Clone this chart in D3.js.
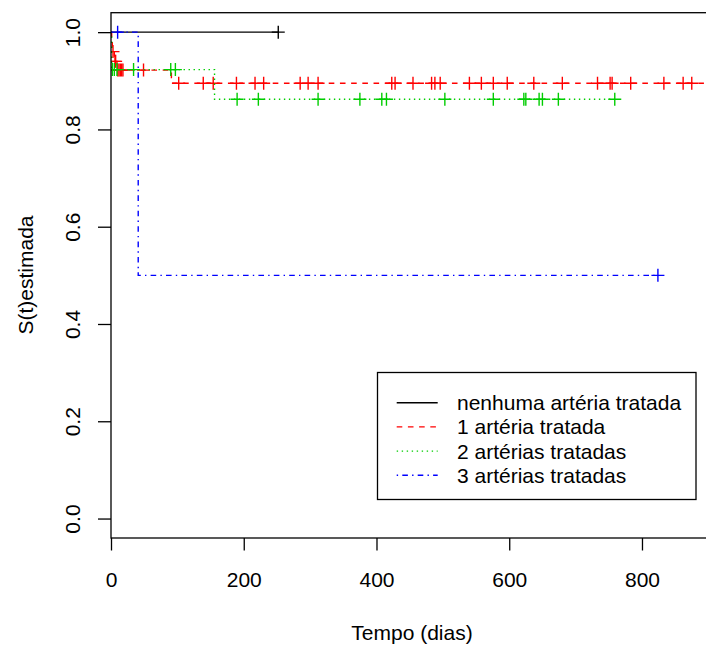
<!DOCTYPE html>
<html>
<head>
<meta charset="utf-8">
<script src="https://cdn.jsdelivr.net/npm/d3@7"></script>
<style>
  body { margin: 0; background: #fff; }
  svg { display: block; font-family: "Liberation Sans", Arial, sans-serif; }
</style>
</head>
<body>
<svg id="chart" width="706" height="645"></svg>
<script>
// group labels, colours and R line types
const groups = ["nenhuma artéria tratada", "1 artéria tratada", "2 artérias tratadas", "3 artérias tratadas"];
const colors = ["#000000", "#ff0000", "#00cd00", "#0000ff"];
const dashes = [null, "5.6 5.6", "1.4 3.6", "1.4 4.2 5.6 4.2"];

// Kaplan-Meier steps (time in days, survival after the step)
const stepTimes = [[], [1, 2, 5, 9, 91], [1, 156], [41]];
const stepSurv = [[], [0.98, 0.96, 0.94, 0.922, 0.895], [0.923, 0.862], [0.5]];

// censored times (the "+" marks)
const censorTimes = [
  [252],
  [3, 6, 7, 10, 12, 14, 16, 18, 49, 102, 139, 154, 189, 217, 230, 285, 297, 312,
   423, 428, 455, 483, 488, 496, 540, 558, 576, 597, 637, 680, 733, 752, 755, 783,
   833, 862, 875],
  [2, 5, 9, 34, 90, 97, 190, 222, 312, 375, 408, 415, 503, 576, 622, 625, 645, 650, 674, 759],
  [10, 824]
];
// last follow-up time of each group (red runs past the window edge)
const endTimes = [252, 905, 759, 824];

const xTicks = [0, 200, 400, 600, 800];
const yTicks = [0, 0.2, 0.4, 0.6, 0.8, 1.0];

const svg = d3.select("#chart");
const FONT = 21;

// plot region (R box), right side runs past the window edge
const x = d3.scaleLinear().domain([0, 907]).range([111, 713]);
const y = d3.scaleLinear().domain([-0.04, 1.04]).range([538, 12.7]);

const survAt = function (g, t) {
  let s = 1;
  stepTimes[g].forEach((st, i) => { if (st <= t) s = stepSurv[g][i]; });
  return s;
};

svg.append("clipPath").attr("id", "plotclip")
  .append("rect").attr("x", 111).attr("y", 12.7).attr("width", 602).attr("height", 525.3);

const plot = svg.append("g").attr("clip-path", "url(#plotclip)");

const line = d3.line().x(d => x(d[0])).y(d => y(d[1])).curve(d3.curveStepAfter);

groups.forEach((name, g) => {
  let end = endTimes[g];
  let pts = [[0, 1]];
  stepTimes[g].forEach((t, i) => pts.push([t, stepSurv[g][i]]));
  pts.push([end, survAt(g, end)]);

  plot.append("path")
    .attr("d", line(pts))
    .attr("fill", "none")
    .attr("stroke", colors[g])
    .attr("stroke-width", 1.4)
    .attr("stroke-dasharray", dashes[g]);

  plot.append("g").selectAll("path")
    .data(censorTimes[g])
    .join("path")
    .attr("d", t => {
      let cx = x(t), cy = y(survAt(g, t));
      return `M${cx - 6.5},${cy}H${cx + 6.5}M${cx},${cy - 6.5}V${cy + 6.5}`;
    })
    .attr("stroke", colors[g])
    .attr("stroke-width", 1.4);
});

// box
svg.append("rect")
  .attr("x", 111).attr("y", 12.7)
  .attr("width", 602).attr("height", 525.3)
  .attr("fill", "none").attr("stroke", "#000").attr("stroke-width", 1.3);

// x axis
const xAxis = svg.append("g")
  .attr("transform", "translate(0,538)")
  .call(d3.axisBottom(x).tickValues(xTicks).tickSize(12.5).tickSizeOuter(0).tickFormat(d3.format("d")));
xAxis.select(".domain").remove();
xAxis.selectAll("line").attr("stroke", "#000").attr("stroke-width", 1.3);
xAxis.selectAll("text")
  .attr("y", 49).attr("dy", null)
  .attr("fill", "#000").style("font-size", FONT + "px").style("font-family", "Liberation Sans, Arial, sans-serif");

// y axis
const yAxis = svg.append("g")
  .attr("transform", "translate(111,0)")
  .call(d3.axisLeft(y).tickValues(yTicks).tickSize(13).tickSizeOuter(0).tickFormat(d3.format(".1f")));
yAxis.select(".domain").remove();
yAxis.selectAll("line").attr("stroke", "#000").attr("stroke-width", 1.3);
yAxis.selectAll("text")
  .attr("x", null).attr("dy", null)
  .attr("text-anchor", "middle")
  .attr("transform", "translate(-31,0) rotate(-90)")
  .attr("fill", "#000").style("font-size", FONT + "px").style("font-family", "Liberation Sans, Arial, sans-serif");

// axis titles
svg.append("text")
  .attr("x", 412).attr("y", 640)
  .attr("text-anchor", "middle")
  .style("font-size", FONT + "px")
  .text("Tempo (dias)");

svg.append("text")
  .attr("transform", "translate(33,275) rotate(-90)")
  .attr("text-anchor", "middle")
  .style("font-size", FONT + "px")
  .text("S(t)estimada");

// legend
const legend = svg.append("g");
legend.append("rect")
  .attr("x", 377.5).attr("y", 372.5)
  .attr("width", 318.5).attr("height", 127)
  .attr("fill", "#fff").attr("stroke", "#000").attr("stroke-width", 1.3);

const rows = legend.selectAll("g.row")
  .data(groups)
  .join("g")
  .attr("class", "row")
  .attr("transform", (d, i) => `translate(0,${402.7 + i * 24.2})`);

rows.append("line")
  .attr("x1", 396.7).attr("x2", 437.7)
  .attr("stroke", (d, i) => colors[i])
  .attr("stroke-width", 1.4)
  .attr("stroke-dasharray", (d, i) => dashes[i]);

rows.append("text")
  .attr("x", 457).attr("y", 7.5)
  .style("font-size", FONT + "px")
  .text(d => d);
</script>
</body>
</html>
